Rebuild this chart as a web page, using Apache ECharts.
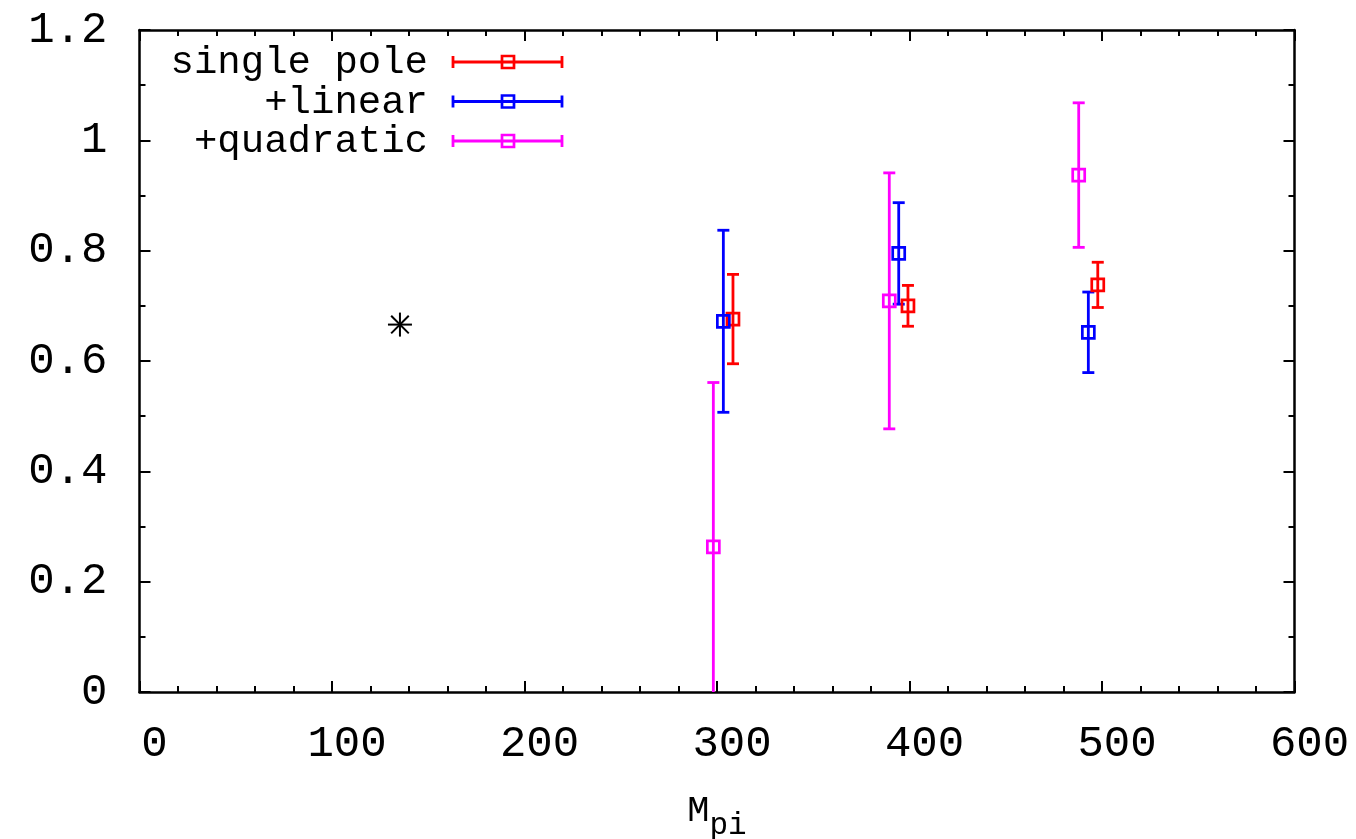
<!DOCTYPE html>
<html>
<head>
<meta charset="utf-8">
<script src="https://cdn.jsdelivr.net/npm/echarts@6/dist/echarts.min.js"></script>
<style>
  html, body { margin: 0; padding: 0; background: #fff; }
  #chart { width: 1356px; height: 839px; }
</style>
</head>
<body>
<div id="chart"></div>
<script>
// Fit results versus pion mass (MeV)
const seriesNames = ['single pole', '+linear', '+quadratic'];
const seriesColors = ['#ff0000', '#0000ff', '#ff00ff'];

const mpiSingle = [308.3, 399.2, 497.8];
const valSingle = [0.676, 0.700, 0.738];
const errSingle = [0.081, 0.037, 0.041];

const mpiLinear = [303.3, 394.4, 492.9];
const valLinear = [0.672, 0.795, 0.652];
const errLinear = [0.165, 0.092, 0.073];

const mpiQuad = [298.1, 389.5, 487.9];
const valQuad = [0.263, 0.709, 0.937];
const errQuad = [0.298, 0.232, 0.131];

// physical point
const physX = [135.3];
const physY = [0.666];

const xMin = 0, xMax = 600, xStep = 100;
const yMin = 0, yMax = 1.2, yStep = 0.2;

const MONO = '"Liberation Mono", "DejaVu Sans Mono", monospace';
const BAR_W = 2.8;

function rows(xs, ys, es) {
  return xs.map((x, i) => [x, ys[i], ys[i] - es[i], ys[i] + es[i]]);
}

const groups = [
  rows(mpiSingle, valSingle, errSingle),
  rows(mpiLinear, valLinear, errLinear),
  rows(mpiQuad, valQuad, errQuad)
];

function errorBarRender(color) {
  return function (params, api) {
    const x = api.value(0);
    const lo = api.coord([x, api.value(2)]);
    const hi = api.coord([x, api.value(3)]);
    const cap = 6;
    const st = { stroke: color, lineWidth: BAR_W };
    return {
      type: 'group',
      children: [
        { type: 'line', shape: { x1: lo[0], y1: lo[1], x2: hi[0], y2: hi[1] }, style: st },
        { type: 'line', shape: { x1: lo[0] - cap, y1: lo[1], x2: lo[0] + cap, y2: lo[1] }, style: st },
        { type: 'line', shape: { x1: hi[0] - cap, y1: hi[1], x2: hi[0] + cap, y2: hi[1] }, style: st }
      ]
    };
  };
}

const series = [];
groups.forEach((data, k) => {
  series.push({
    type: 'custom',
    name: seriesNames[k],
    clip: true,
    renderItem: errorBarRender(seriesColors[k]),
    encode: { x: 0, y: 1 },
    data: data,
    silent: true
  });
  series.push({
    type: 'scatter',
    name: seriesNames[k],
    symbol: 'rect',
    symbolSize: 12,
    itemStyle: { color: 'transparent', borderColor: seriesColors[k], borderWidth: 2.7, opacity: 1 },
    data: data.map(d => [d[0], d[1]]),
    silent: true
  });
});

// asterisk marker for the physical point
series.push({
  type: 'custom',
  renderItem: function (params, api) {
    const c = api.coord([api.value(0), api.value(1)]);
    const r = 12, d = 8.8;
    const st = { stroke: '#000', lineWidth: 2 };
    return {
      type: 'group',
      children: [
        { type: 'line', shape: { x1: c[0] - r, y1: c[1], x2: c[0] + r, y2: c[1] }, style: st },
        { type: 'line', shape: { x1: c[0], y1: c[1] - r, x2: c[0], y2: c[1] + r }, style: st },
        { type: 'line', shape: { x1: c[0] - d, y1: c[1] - d, x2: c[0] + d, y2: c[1] + d }, style: st },
        { type: 'line', shape: { x1: c[0] - d, y1: c[1] + d, x2: c[0] + d, y2: c[1] - d }, style: st }
      ]
    };
  },
  encode: { x: 0, y: 1 },
  data: physX.map((x, i) => [x, physY[i]]),
  silent: true
});

// key in the upper-left corner
const keyRowY = [62, 101.5, 141];
const keyText = [];
seriesNames.forEach((name, k) => {
  const y = keyRowY[k];
  const st = { stroke: seriesColors[k], lineWidth: BAR_W };
  keyText.push(
    { type: 'text', style: { text: name, x: 428, y: y + 1, fill: '#000', font: '39px ' + MONO, align: 'right', verticalAlign: 'middle' } },
    { type: 'line', shape: { x1: 453, y1: y, x2: 562, y2: y }, style: st },
    { type: 'line', shape: { x1: 453, y1: y - 6, x2: 453, y2: y + 6 }, style: st },
    { type: 'line', shape: { x1: 562, y1: y - 6, x2: 562, y2: y + 6 }, style: st },
    { type: 'rect', shape: { x: 502, y: y - 6, width: 12, height: 12 }, style: { fill: 'transparent', stroke: seriesColors[k], lineWidth: 2.7 } }
  );
});

function axisParts(minorSplit, showLabel, labelCfg) {
  return {
    axisLine: { show: true, onZero: false, lineStyle: { color: '#000', width: 2.5 } },
    axisTick: { show: true, inside: true, length: 11, lineStyle: { color: '#000', width: 2 } },
    minorTick: { show: true, splitNumber: minorSplit, length: 6, lineStyle: { color: '#000', width: 2 } },
    splitLine: { show: false },
    axisLabel: showLabel ? labelCfg : { show: false }
  };
}

const xLabel = { show: true, color: '#000', fontFamily: MONO, fontSize: 44, margin: 30, padding: [0, 0, 0, 30] };
const yLabel = { show: true, color: '#000', fontFamily: MONO, fontSize: 44, margin: 32 };

const chart = echarts.init(document.getElementById('chart'), null, { renderer: 'canvas' });
chart.setOption({
  animation: false,
  backgroundColor: '#fff',
  grid: { left: 139.5, right: 61.5, top: 30, bottom: 147, containLabel: false, outerBoundsMode: 'none' },
  xAxis: [
    Object.assign({
      type: 'value', min: xMin, max: xMax, interval: xStep, position: 'bottom',
      name: '{a|M}{b|pi}', nameLocation: 'middle', nameGap: 101,
      nameTextStyle: {
        rich: {
          a: { fontFamily: MONO, fontSize: 37, color: '#000', verticalAlign: 'top', lineHeight: 48 },
          b: { fontFamily: MONO, fontSize: 31, color: '#000', verticalAlign: 'bottom', lineHeight: 48 }
        }
      }
    }, axisParts(5, true, xLabel)),
    Object.assign({
      type: 'value', min: xMin, max: xMax, interval: xStep, position: 'top'
    }, axisParts(5, false))
  ],
  yAxis: [
    Object.assign({
      type: 'value', min: yMin, max: yMax, interval: yStep, position: 'left'
    }, axisParts(2, true, yLabel)),
    Object.assign({
      type: 'value', min: yMin, max: yMax, interval: yStep, position: 'right'
    }, axisParts(2, false))
  ],
  graphic: keyText,
  series: series
});
</script>
</body>
</html>
